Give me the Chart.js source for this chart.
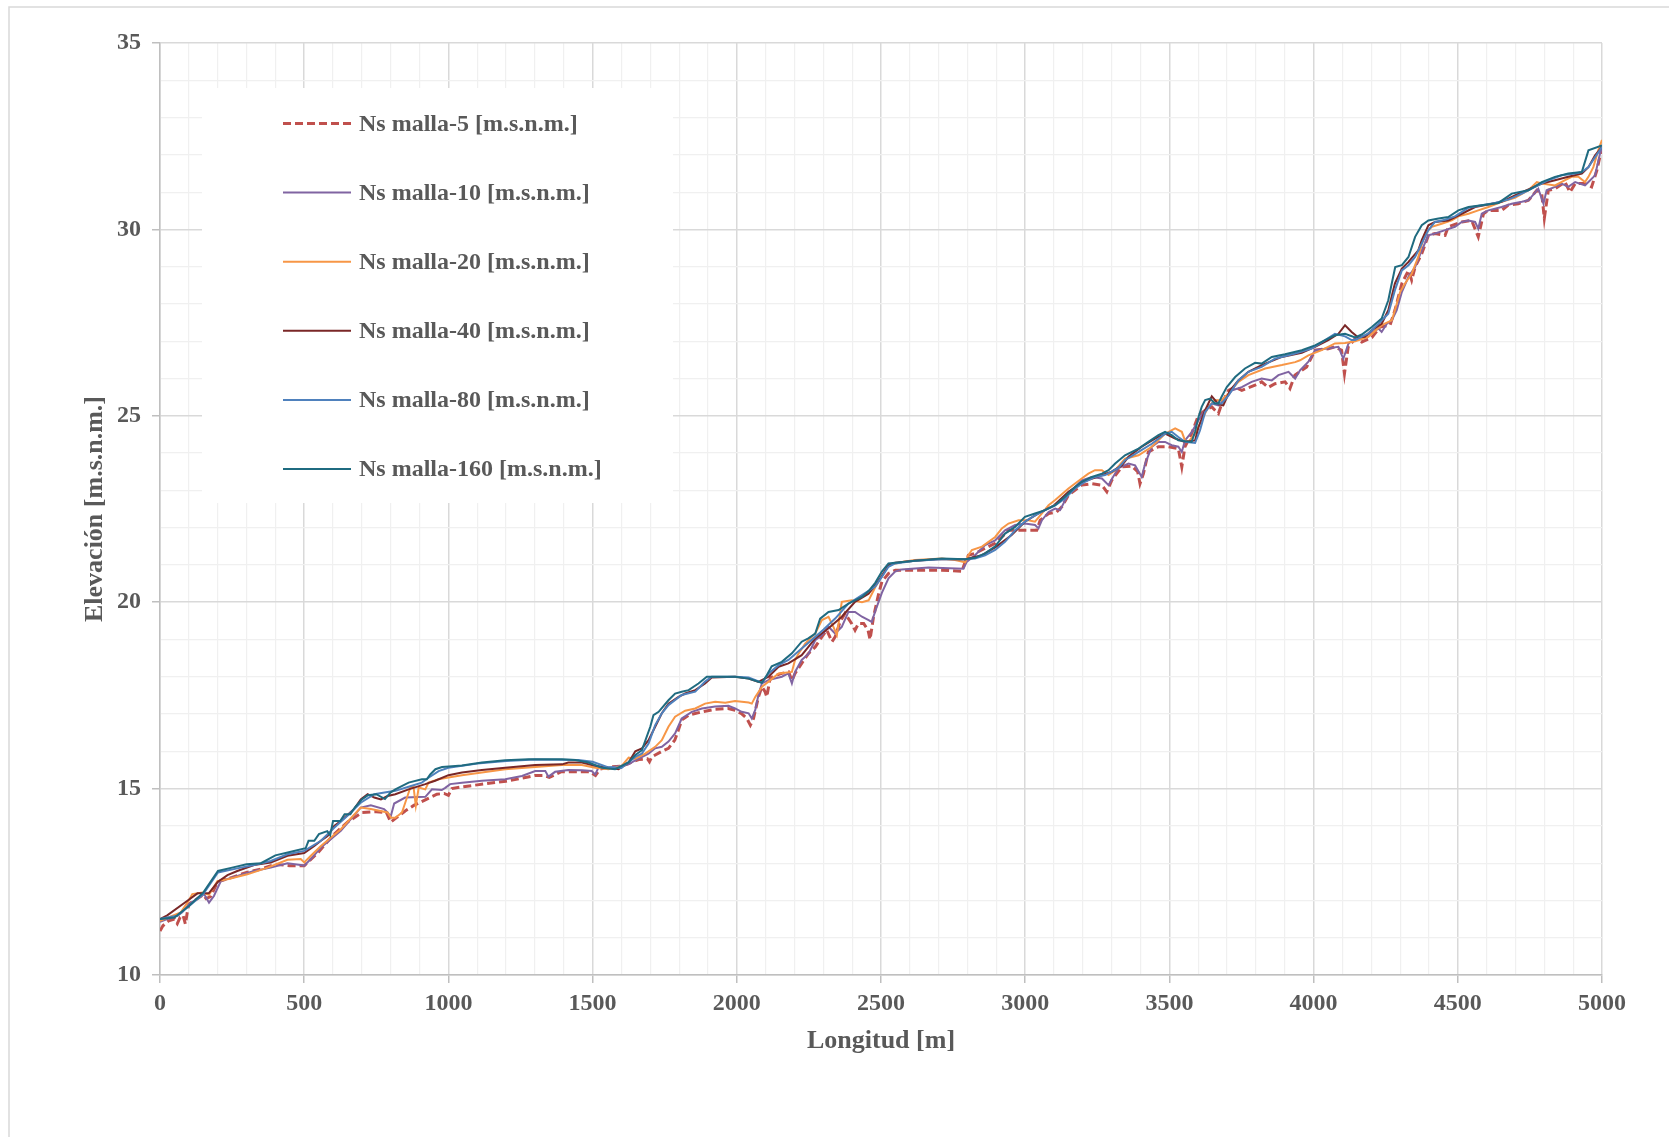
<!DOCTYPE html>
<html>
<head>
<meta charset="utf-8">
<script src="https://cdn.jsdelivr.net/npm/chart.js"></script>
<style>
html, body { margin: 0; padding: 0; background: #fff; }
canvas { display: block; }
</style>
</head>
<body>
<canvas id="perfil" width="1669" height="1137"></canvas>
<script>
// series labels
const etiquetas = ['Ns malla-5 [m.s.n.m.]', 'Ns malla-10 [m.s.n.m.]', 'Ns malla-20 [m.s.n.m.]',
  'Ns malla-40 [m.s.n.m.]', 'Ns malla-80 [m.s.n.m.]', 'Ns malla-160 [m.s.n.m.]']

// [longitud m, elevacion m.s.n.m.]
const malla5 = [[0,11.18],[10,11.32],[30,11.45],[50,11.5],[60,11.38],[70,11.55],[80,11.6],[88,11.37],[95,11.7],[100,11.9],[150,12.15],[160,12.05],[175,12.1],[200,12.5],[250,12.62],[300,12.75],[350,12.84],[400,12.97],[450,12.93],[500,12.93],[550,13.3],[600,13.75],[650,14.1],[700,14.36],[750,14.38],[785,14.36],[800,14.1],[820,14.22],[850,14.4],[880,14.55],[920,14.7],[960,14.85],[985,14.87],[1000,14.82],[1012,15.0],[1050,15.05],[1100,15.1],[1200,15.2],[1250,15.27],[1300,15.35],[1330,15.35],[1350,15.3],[1390,15.45],[1440,15.45],[1490,15.45],[1510,15.35],[1525,15.52],[1560,15.58],[1600,15.6],[1640,15.72],[1660,15.78],[1690,15.8],[1697,15.72],[1705,15.85],[1740,16.0],[1763,16.08],[1785,16.3],[1810,16.85],[1833,16.97],[1880,17.06],[1925,17.13],[1970,17.15],[1995,17.1],[2018,17.0],[2035,16.88],[2047,16.7],[2058,16.88],[2075,17.46],[2087,17.73],[2098,17.6],[2104,17.46],[2116,17.98],[2156,18.09],[2180,18.13],[2191,17.9],[2202,18.09],[2225,18.36],[2248,18.62],[2272,18.8],[2295,19.07],[2312,19.25],[2330,18.94],[2341,19.07],[2358,19.47],[2375,19.7],[2398,19.43],[2410,19.25],[2422,19.43],[2440,19.43],[2455,19.25],[2462,19.0],[2474,19.6],[2491,20.2],[2503,20.55],[2526,20.77],[2550,20.86],[2650,20.86],[2710,20.86],[2780,20.83],[2792,21.08],[2803,21.26],[2826,21.31],[2860,21.44],[2896,21.58],[2919,21.75],[2942,21.93],[2977,21.93],[3010,21.93],[3040,21.93],[3052,22.2],[3081,22.38],[3109,22.42],[3127,22.56],[3150,22.87],[3196,23.14],[3231,23.18],[3266,23.14],[3283,22.96],[3300,23.27],[3335,23.63],[3370,23.65],[3390,23.5],[3398,23.18],[3410,23.45],[3427,24.03],[3462,24.17],[3497,24.17],[3531,24.12],[3543,23.63],[3554,24.17],[3577,24.52],[3600,25.0],[3624,25.15],[3647,25.24],[3658,25.15],[3670,25.06],[3682,25.33],[3705,25.68],[3728,25.77],[3751,25.68],[3797,25.82],[3820,25.91],[3843,25.76],[3866,25.86],[3901,25.91],[3918,25.73],[3935,26.09],[3959,26.22],[3976,26.31],[4005,26.76],[4051,26.8],[4074,26.85],[4097,26.76],[4107,26.13],[4120,26.85],[4144,27.07],[4167,26.98],[4202,27.1],[4230,27.38],[4265,27.43],[4282,27.83],[4306,28.55],[4329,28.9],[4340,28.64],[4352,28.99],[4375,29.35],[4398,29.84],[4421,29.89],[4456,29.84],[4467,30.07],[4514,30.2],[4548,30.24],[4571,29.8],[4589,30.42],[4606,30.51],[4652,30.51],[4675,30.65],[4710,30.69],[4745,30.78],[4774,31.05],[4791,30.96],[4800,30.3],[4814,31.05],[4837,31.09],[4872,31.27],[4889,31.0],[4907,31.23],[4941,31.23],[4964,31.14],[4982,31.58],[5000,32.2]]

const malla10 = [[0,11.43],[25,11.5],[60,11.59],[77,11.68],[100,11.9],[153,12.17],[170,11.94],[187,12.12],[211,12.52],[268,12.66],[326,12.79],[384,12.88],[442,13.0],[488,12.95],[500,12.93],[523,13.11],[558,13.42],[627,13.87],[696,14.49],[731,14.55],[777,14.45],[789,14.36],[800,14.25],[812,14.6],[850,14.76],[920,14.78],[943,14.98],[977,14.96],[989,15.02],[1006,15.12],[1047,15.16],[1116,15.21],[1197,15.25],[1255,15.34],[1301,15.47],[1336,15.47],[1347,15.32],[1370,15.45],[1416,15.5],[1463,15.49],[1497,15.47],[1509,15.38],[1520,15.56],[1555,15.56],[1601,15.61],[1624,15.65],[1648,15.76],[1694,15.94],[1717,16.08],[1740,16.12],[1763,16.26],[1786,16.48],[1809,16.88],[1844,17.06],[1879,17.15],[1925,17.2],[1971,17.22],[1994,17.15],[2017,17.06],[2041,17.02],[2052,16.88],[2064,17.11],[2075,17.51],[2087,17.82],[2110,17.91],[2156,18.0],[2179,18.09],[2191,17.82],[2202,18.13],[2225,18.45],[2249,18.62],[2272,18.98],[2295,19.12],[2318,19.34],[2341,19.16],[2364,19.34],[2387,19.74],[2410,19.74],[2434,19.61],[2457,19.52],[2468,19.47],[2480,19.76],[2503,20.25],[2526,20.64],[2549,20.82],[2572,20.88],[2665,20.93],[2786,20.9],[2797,21.08],[2826,21.26],[2861,21.53],[2896,21.66],[2930,21.93],[2965,22.07],[2999,22.11],[3034,22.07],[3046,21.98],[3058,22.2],[3081,22.42],[3104,22.51],[3121,22.47],[3150,22.91],[3196,23.27],[3231,23.36],[3266,23.32],[3289,23.14],[3300,23.3],[3323,23.6],[3358,23.72],[3381,23.67],[3404,23.36],[3416,23.72],[3439,24.17],[3462,24.3],[3485,24.3],[3508,24.21],[3531,24.17],[3543,24.03],[3554,24.34],[3578,24.57],[3601,24.88],[3624,25.15],[3647,25.33],[3670,25.28],[3693,25.42],[3716,25.68],[3751,25.77],[3785,25.91],[3820,26.0],[3855,25.95],[3878,26.09],[3913,26.18],[3936,26.0],[3953,26.22],[3982,26.45],[4005,26.76],[4040,26.8],[4086,26.85],[4103,26.53],[4121,26.94],[4144,27.06],[4190,27.18],[4225,27.34],[4236,27.25],[4254,27.47],[4271,27.56],[4288,27.83],[4306,28.32],[4329,28.73],[4352,28.99],[4375,29.44],[4398,29.84],[4421,29.89],[4456,29.98],[4490,30.07],[4514,30.2],[4537,30.24],[4560,30.2],[4571,30.02],[4583,30.42],[4606,30.51],[4652,30.6],[4687,30.69],[4722,30.74],[4745,30.78],[4779,31.09],[4797,30.69],[4808,31.05],[4837,31.14],[4860,31.23],[4883,31.14],[4907,31.27],[4941,31.18],[4953,31.27],[4976,31.45],[4993,32.03],[5000,32.2]]

const malla20 = [[0,11.45],[72,11.68],[95,11.94],[112,12.17],[147,12.21],[170,12.15],[199,12.52],[234,12.57],[303,12.7],[373,12.88],[442,13.09],[488,13.11],[500,13.02],[523,13.2],[558,13.46],[627,13.91],[696,14.49],[731,14.45],[789,14.36],[801,14.22],[816,14.22],[839,14.36],[868,15.03],[879,15.05],[887,14.54],[897,15.03],[920,14.98],[931,15.16],[966,15.25],[1000,15.3],[1047,15.36],[1116,15.43],[1197,15.52],[1301,15.58],[1394,15.63],[1463,15.63],[1509,15.56],[1555,15.52],[1601,15.61],[1625,15.83],[1648,15.8],[1682,15.94],[1717,16.12],[1740,16.3],[1763,16.66],[1786,16.93],[1821,17.09],[1856,17.15],[1890,17.28],[1925,17.33],[1960,17.3],[1994,17.35],[2041,17.31],[2052,17.28],[2064,17.46],[2087,17.73],[2110,17.87],[2145,18.09],[2191,18.13],[2202,18.45],[2214,18.62],[2237,18.89],[2272,19.16],[2295,19.52],[2318,19.61],[2335,19.34],[2347,19.12],[2364,20.01],[2399,20.05],[2434,20.0],[2457,20.05],[2480,20.4],[2503,20.7],[2526,20.99],[2572,21.08],[2618,21.13],[2711,21.17],[2757,21.13],[2792,21.07],[2803,21.26],[2815,21.4],[2850,21.49],[2896,21.75],[2919,21.98],[2942,22.11],[2977,22.2],[3011,22.2],[3034,22.16],[3058,22.38],[3081,22.6],[3104,22.74],[3150,23.05],[3196,23.32],[3219,23.45],[3242,23.54],[3266,23.54],[3289,23.41],[3312,23.54],[3346,23.85],[3393,23.94],[3439,24.17],[3485,24.52],[3520,24.66],[3543,24.57],[3554,24.34],[3566,24.3],[3589,24.52],[3612,24.88],[3635,25.24],[3658,25.42],[3681,25.42],[3705,25.6],[3739,25.91],[3774,26.09],[3832,26.27],[3890,26.36],[3936,26.44],[3953,26.49],[3982,26.62],[4028,26.76],[4074,26.94],[4109,26.95],[4144,27.0],[4190,27.12],[4236,27.43],[4271,27.56],[4282,27.83],[4300,28.32],[4317,28.55],[4340,28.81],[4363,29.26],[4386,29.89],[4410,30.07],[4444,30.15],[4479,30.24],[4502,30.35],[4537,30.42],[4571,30.51],[4606,30.6],[4652,30.74],[4698,30.85],[4745,31.05],[4774,31.27],[4791,31.23],[4837,31.18],[4872,31.32],[4895,31.41],[4918,31.41],[4941,31.27],[4953,31.41],[4970,31.67],[4987,32.12],[5000,32.4]]

const malla40 = [[0,11.5],[25,11.6],[95,11.99],[130,12.19],[169,12.19],[201,12.5],[234,12.68],[268,12.79],[326,12.95],[384,13.02],[442,13.2],[500,13.27],[535,13.46],[558,13.6],[581,13.73],[604,14.0],[627,14.13],[673,14.45],[696,14.71],[720,14.85],[743,14.76],[766,14.71],[789,14.8],[816,14.85],[862,14.98],[920,15.12],[954,15.21],[1000,15.36],[1047,15.43],[1116,15.5],[1197,15.56],[1301,15.63],[1394,15.65],[1416,15.7],[1463,15.7],[1509,15.61],[1590,15.52],[1625,15.7],[1648,16.0],[1671,16.08],[1694,16.3],[1717,16.66],[1740,17.02],[1763,17.28],[1798,17.46],[1821,17.55],[1856,17.64],[1890,17.82],[1913,17.98],[1994,18.0],[2041,17.95],[2075,17.86],[2110,18.0],[2145,18.27],[2179,18.36],[2225,18.58],[2272,19.03],[2318,19.3],[2364,19.61],[2410,20.01],[2457,20.23],[2480,20.45],[2503,20.7],[2526,20.99],[2549,21.06],[2618,21.11],[2711,21.16],[2792,21.15],[2850,21.26],[2900,21.49],[2953,21.8],[2999,22.16],[3046,22.38],[3100,22.6],[3150,22.96],[3200,23.23],[3248,23.36],[3300,23.5],[3335,23.67],[3358,23.9],[3404,24.17],[3450,24.39],[3485,24.52],[3520,24.39],[3554,24.3],[3589,24.34],[3601,24.7],[3624,25.15],[3647,25.52],[3670,25.31],[3687,25.28],[3710,25.68],[3739,25.95],[3774,26.18],[3820,26.36],[3890,26.58],[3959,26.69],[4005,26.85],[4051,27.03],[4086,27.2],[4109,27.43],[4132,27.25],[4155,27.1],[4178,27.12],[4202,27.3],[4236,27.47],[4259,27.83],[4282,28.55],[4306,28.95],[4329,29.13],[4363,29.44],[4375,29.71],[4398,30.11],[4421,30.2],[4467,30.24],[4514,30.42],[4560,30.6],[4606,30.67],[4652,30.74],[4698,30.91],[4745,31.07],[4791,31.23],[4837,31.32],[4883,31.41],[4930,31.5],[4953,31.67],[4976,31.99],[5000,32.21]]

const malla80 = [[0,11.5],[25,11.54],[60,11.59],[95,11.81],[150,12.17],[201,12.75],[268,12.86],[326,12.95],[384,13.06],[442,13.24],[500,13.33],[558,13.6],[604,13.95],[650,14.27],[696,14.62],[743,14.85],[789,14.91],[816,14.94],[862,15.05],[908,15.16],[931,15.29],[966,15.47],[1000,15.56],[1100,15.67],[1200,15.74],[1300,15.78],[1450,15.77],[1500,15.72],[1550,15.58],[1600,15.55],[1648,15.85],[1671,15.94],[1694,16.21],[1717,16.7],[1740,17.02],[1763,17.24],[1809,17.51],[1856,17.6],[1890,17.87],[1913,18.0],[1994,18.0],[2041,17.98],[2087,17.84],[2110,18.09],[2145,18.31],[2179,18.45],[2225,18.76],[2272,19.07],[2301,19.27],[2341,19.56],[2387,19.96],[2434,20.19],[2480,20.42],[2503,20.68],[2526,20.95],[2549,21.04],[2618,21.11],[2711,21.15],[2792,21.15],[2826,21.17],[2861,21.26],[2896,21.4],[2930,21.62],[2965,21.93],[2999,22.16],[3034,22.33],[3069,22.47],[3104,22.6],[3138,22.78],[3173,23.05],[3208,23.23],[3242,23.36],[3277,23.41],[3300,23.5],[3323,23.6],[3346,23.81],[3393,24.03],[3439,24.25],[3485,24.52],[3508,24.57],[3531,24.43],[3554,24.3],[3589,24.27],[3606,24.61],[3624,25.1],[3647,25.33],[3681,25.33],[3705,25.55],[3739,25.95],[3774,26.18],[3820,26.31],[3866,26.53],[3936,26.67],[3993,26.8],[4040,27.03],[4074,27.2],[4109,27.13],[4132,27.03],[4144,27.03],[4190,27.21],[4225,27.47],[4259,27.74],[4282,28.37],[4306,28.9],[4329,29.04],[4352,29.26],[4375,29.62],[4398,29.98],[4421,30.2],[4456,30.26],[4490,30.35],[4537,30.58],[4583,30.65],[4629,30.71],[4675,30.8],[4722,30.96],[4768,31.14],[4814,31.32],[4860,31.45],[4907,31.5],[4930,31.54],[4953,31.67],[4976,31.94],[5000,32.21]]

const malla160 = [[0,11.5],[50,11.54],[100,11.85],[150,12.21],[201,12.79],[250,12.88],[300,12.97],[350,13.0],[400,13.21],[450,13.3],[505,13.4],[515,13.6],[535,13.6],[551,13.78],[580,13.86],[590,13.75],[600,14.13],[625,14.13],[640,14.31],[660,14.31],[676,14.5],[700,14.71],[720,14.82],[750,14.85],[780,14.72],[800,14.9],[816,14.98],[862,15.16],[908,15.25],[925,15.25],[937,15.38],[955,15.52],[978,15.58],[1047,15.62],[1116,15.7],[1197,15.76],[1278,15.79],[1394,15.79],[1440,15.77],[1486,15.7],[1532,15.56],[1578,15.52],[1624,15.7],[1648,15.9],[1671,16.03],[1700,16.66],[1711,16.97],[1729,17.06],[1763,17.37],[1786,17.55],[1809,17.6],[1833,17.64],[1867,17.82],[1896,18.0],[1994,18.0],[2041,17.95],[2087,17.84],[2104,18.04],[2121,18.28],[2156,18.4],[2191,18.63],[2225,18.94],[2248,19.03],[2272,19.16],[2289,19.56],[2318,19.74],[2353,19.79],[2387,19.96],[2434,20.14],[2457,20.3],[2480,20.52],[2503,20.82],[2526,21.04],[2549,21.06],[2618,21.11],[2711,21.17],[2792,21.15],[2826,21.19],[2861,21.31],[2896,21.5],[2930,21.84],[2965,22.02],[2999,22.29],[3034,22.38],[3069,22.47],[3104,22.6],[3138,22.83],[3173,23.09],[3196,23.23],[3231,23.36],[3266,23.45],[3289,23.54],[3312,23.72],[3346,23.94],[3393,24.12],[3427,24.3],[3462,24.48],[3485,24.57],[3508,24.48],[3531,24.34],[3577,24.3],[3589,24.57],[3601,24.97],[3612,25.24],[3624,25.42],[3641,25.46],[3658,25.33],[3670,25.33],[3681,25.51],[3699,25.77],[3728,26.04],[3762,26.27],[3797,26.42],[3820,26.4],[3855,26.58],[3901,26.65],[3959,26.76],[4005,26.89],[4040,27.03],[4074,27.16],[4109,27.2],[4144,27.1],[4167,27.18],[4202,27.38],[4236,27.61],[4259,28.1],[4271,28.55],[4283,28.99],[4306,29.04],[4329,29.26],[4352,29.8],[4375,30.11],[4398,30.24],[4433,30.29],[4467,30.33],[4502,30.51],[4537,30.6],[4583,30.65],[4641,30.71],[4687,30.96],[4745,31.05],[4791,31.27],[4837,31.41],[4883,31.5],[4930,31.54],[4953,32.12],[5000,32.25]]

const series = [malla5, malla10, malla20, malla40, malla80, malla160]
const colores = ['#C0504D', '#8064A2', '#F79646', '#7A2727', '#4F81BD', '#1F6B80']

const FUENTE = '"Liberation Serif", "Times New Roman", serif'
const GRIS = '#595959'

const toXY = arr => arr.map(([x, y]) => ({ x: x, y: y }))

const datasets = series.map((s, i) => ({
    label: etiquetas[i],
    data: toXY(s),
    borderColor: colores[i],
    backgroundColor: colores[i],
    borderWidth: i === 0 ? 3 : 2,
    borderDash: i === 0 ? [8, 4] : [],
    pointRadius: 0,
    fill: false,
    tension: 0,
    order: series.length - 1 - i
}))

// chart border like the Excel chart frame
const marco = {
    id: 'marco',
    beforeDraw(chart) {
        const c = chart.ctx
        c.save()
        c.fillStyle = '#fff'
        c.fillRect(0, 0, chart.width, chart.height)
        c.strokeStyle = '#D9D9D9'
        c.lineWidth = 1.5
        c.beginPath()
        c.moveTo(9, chart.height)
        c.lineTo(9, 7)
        c.lineTo(chart.width, 7)
        c.stroke()
        c.restore()
    }
}

// legend box inside the plot
const leyenda = {
    id: 'leyenda',
    beforeDatasetsDraw(chart) {
        const c = chart.ctx
        c.save()
        c.fillStyle = '#fff'
        c.fillRect(202, 88, 471, 415)
        c.restore()
    },
    afterDatasetsDraw(chart) {
        const c = chart.ctx
        c.save()
        c.font = 'bold 24px ' + FUENTE
        c.textBaseline = 'middle'
        chart.data.datasets.forEach((ds, i) => {
            const y = 123.5 + i * 69.1
            c.strokeStyle = ds.borderColor
            c.lineWidth = ds.borderWidth
            c.setLineDash(ds.borderDash)
            c.beginPath()
            c.moveTo(283, y)
            c.lineTo(351, y)
            c.stroke()
            c.setLineDash([])
            c.fillStyle = GRIS
            c.fillText(ds.label, 359, y + 1)
        })
        c.restore()
    }
}

const esMayorX = v => v % 500 === 0
const esMayorY = v => v % 5 === 0

new Chart(document.getElementById('perfil'), {
    type: 'line',
    data: { datasets: datasets },
    plugins: [marco, leyenda],
    options: {
        responsive: false,
        animation: false,
        devicePixelRatio: 1,
        layout: { padding: { top: 43, right: 67, left: 0, bottom: 0 } },
        plugins: { legend: { display: false }, tooltip: { enabled: false } },
        scales: {
            x: {
                type: 'linear',
                min: 0,
                max: 5000,
                ticks: {
                    stepSize: 100,
                    autoSkip: false,
                    maxRotation: 0,
                    padding: 6,
                    color: GRIS,
                    font: { family: FUENTE, size: 24, weight: 'bold' },
                    callback: v => esMayorX(v) ? String(v) : ''
                },
                grid: {
                    color: ctx => esMayorX(ctx.tick.value) ? '#D9D9D9' : '#F0F0F0',
                    lineWidth: ctx => esMayorX(ctx.tick.value) ? 1.5 : 1.2,
                    tickLength: 8,
                    tickColor: ctx => esMayorX(ctx.tick.value) ? '#BFBFBF' : 'rgba(0,0,0,0)'
                },
                border: { color: '#BFBFBF', width: 1.5 },
                title: {
                    display: true,
                    text: 'Longitud [m]',
                    color: GRIS,
                    font: { family: FUENTE, size: 26, weight: 'bold' },
                    padding: { top: 0, bottom: 80 }
                },
                afterFit: s => { s.height = 162 }
            },
            y: {
                min: 10,
                max: 35,
                ticks: {
                    stepSize: 1,
                    padding: 11,
                    color: GRIS,
                    font: { family: FUENTE, size: 24, weight: 'bold' },
                    callback: v => esMayorY(v) ? String(v) : ''
                },
                grid: {
                    color: ctx => esMayorY(ctx.tick.value) ? '#D9D9D9' : '#F0F0F0',
                    lineWidth: ctx => esMayorY(ctx.tick.value) ? 1.5 : 1.2,
                    tickLength: 8,
                    tickColor: ctx => esMayorY(ctx.tick.value) ? '#BFBFBF' : 'rgba(0,0,0,0)'
                },
                border: { color: '#BFBFBF', width: 1.5 },
                title: {
                    display: true,
                    text: 'Elevación [m.s.n.m.]',
                    color: GRIS,
                    font: { family: FUENTE, size: 26, weight: 'bold' },
                    padding: { top: 80, bottom: 0 }
                },
                afterFit: s => { s.width = 160 }
            }
        }
    }
})
</script>
</body>
</html>
